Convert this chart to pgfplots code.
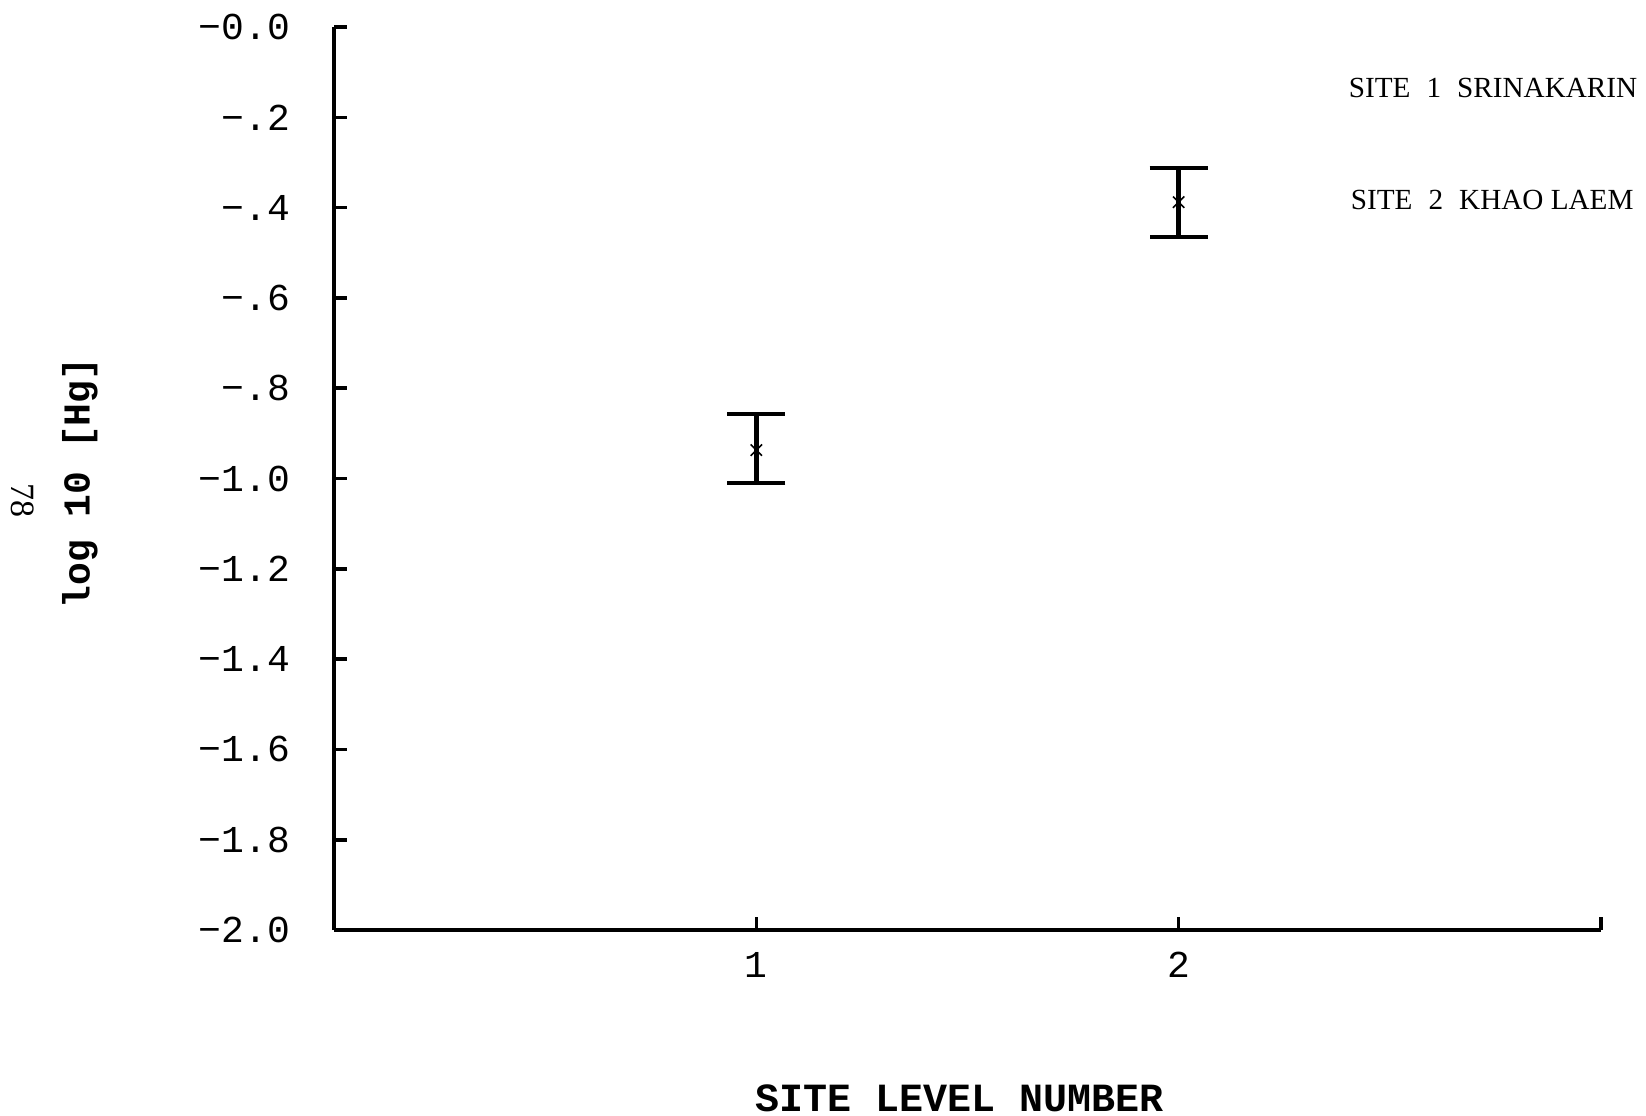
\documentclass[border=0pt]{standalone}
\usepackage{fontspec}
\usepackage{pgfplots}
\usepackage{pgfplotstable}
\pgfplotsset{compat=1.18}
\newfontfamily\monofont{Liberation Mono}
\newfontfamily\serifont{Liberation Serif}

\pgfplotstableread{
x y ep em
1 -0.937 0.080 0.073
2 -0.388 0.076 0.077
}\sitedata

\begin{document}
\begin{tikzpicture}
\begin{axis}[
  at={(0,0)}, anchor=south west, scale only axis,
  width=316.75pt, height=225.75pt,
  xmin=0, xmax=3, ymin=-2, ymax=0,
  axis x line=bottom, axis y line=left,
  axis line style={-, line width=1.1pt, black},
  tick align=inside, major tick length=3.25pt,
  tick style={line width=0.9pt, black},
  xtick={1,2,3}, xticklabels={1,2,},
  ytick={-2,-1.8,-1.6,-1.4,-1.2,-1,-0.8,-0.6,-0.4,-0.2,0},
  yticklabels={−2.0,−1.8,−1.6,−1.4,−1.2,−1.0,−.8,−.6,−.4,−.2,−0.0},
  ticklabel style={font=\monofont\fontsize{9.5}{11}\selectfont},
  yticklabel style={xshift=-7.5pt},
  xticklabel style={yshift=-2pt},
  clip=false,
]
\addplot[black, only marks, mark=x, mark size=2pt,
  error bars/.cd, y dir=both, y explicit,
  error bar style={line width=1.1pt, black},
  error mark options={black, rotate=90, line width=1.1pt, mark size=7.25pt}]
  table[x=x, y=y, y error plus=ep, y error minus=em] {\sitedata};
\end{axis}
\node[rotate=90, font=\monofont\bfseries\fontsize{9.5}{11}\selectfont] at (-63.5pt,111.75pt) {log 10 [Hg]};
\node[rotate=-90, font=\serifont\fontsize{8.5}{10}\selectfont] at (-77.75pt,107.25pt) {78};
\node[font=\monofont\bfseries\fontsize{10}{12}\selectfont] at (156.5pt,-42pt) {SITE LEVEL NUMBER};
\node[anchor=west, inner sep=0pt, font=\serifont\fontsize{7.3}{9}\selectfont] at (253.5pt,210.5pt) {SITE\hspace{0.55em}1\hspace{0.55em}SRINAKARIN};
\node[anchor=west, inner sep=0pt, font=\serifont\fontsize{7.3}{9}\selectfont] at (254pt,182.5pt) {SITE\hspace{0.55em}2\hspace{0.55em}KHAO LAEM};
\pgfresetboundingbox
\path[use as bounding box] (-83.5pt,-46.25pt) rectangle (328pt,232.5pt);
\end{tikzpicture}
\end{document}
